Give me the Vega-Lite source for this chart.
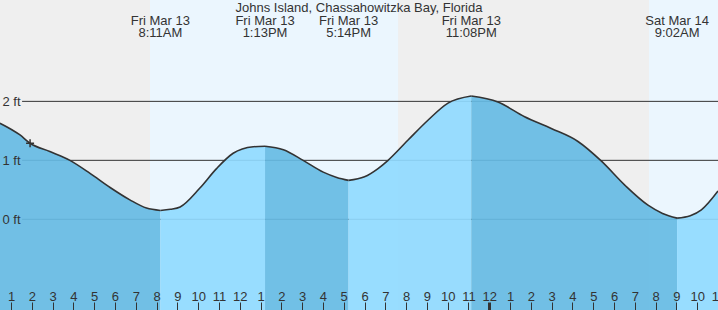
{
  "$schema": "https://vega.github.io/schema/vega-lite/v6.json",
  "width": 718,
  "height": 310,
  "autosize": {"type": "none"},
  "padding": 0,
  "background": "#efefef",
  "title": {"text": "Johns Island, Chassahowitzka Bay, Florida", "offset": -15, "fontSize": 13, "font": "Liberation Sans", "fontWeight": "normal", "color": "#333", "anchor": "middle", "frame": "group"},
  "config": {"view": {"stroke": null}, "font": "Liberation Sans", "axis": {"labelOverlap": false}},
  "datasets": {
    "day": [
      {"s": "2026-03-13T07:41", "e": "2026-03-13T19:37"},
      {"s": "2026-03-14T07:41", "e": "2026-03-14T19:38"}
    ],
    "grid": [{"ft": 0}, {"ft": 1}, {"ft": 2}],
    "tide": [
      {"t": "2026-03-13T00:28", "ft": 1.63, "seg": 1, "phase": "falling"},
      {"t": "2026-03-13T01:26", "ft": 1.43, "seg": 1, "phase": "falling"},
      {"t": "2026-03-13T01:55", "ft": 1.29, "seg": 1, "phase": "falling"},
      {"t": "2026-03-13T02:52", "ft": 1.15, "seg": 1, "phase": "falling"},
      {"t": "2026-03-13T03:50", "ft": 1.0, "seg": 1, "phase": "falling"},
      {"t": "2026-03-13T04:48", "ft": 0.78, "seg": 1, "phase": "falling"},
      {"t": "2026-03-13T05:46", "ft": 0.54, "seg": 1, "phase": "falling"},
      {"t": "2026-03-13T06:43", "ft": 0.33, "seg": 1, "phase": "falling"},
      {"t": "2026-03-13T07:31", "ft": 0.19, "seg": 1, "phase": "falling"},
      {"t": "2026-03-13T08:11", "ft": 0.15, "seg": 1, "phase": "falling"},
      {"t": "2026-03-13T08:11", "ft": 0.15, "seg": 2, "phase": "rising"},
      {"t": "2026-03-13T08:40", "ft": 0.17, "seg": 2, "phase": "rising"},
      {"t": "2026-03-13T09:08", "ft": 0.21, "seg": 2, "phase": "rising"},
      {"t": "2026-03-13T10:05", "ft": 0.53, "seg": 2, "phase": "rising"},
      {"t": "2026-03-13T10:53", "ft": 0.86, "seg": 2, "phase": "rising"},
      {"t": "2026-03-13T11:41", "ft": 1.12, "seg": 2, "phase": "rising"},
      {"t": "2026-03-13T12:39", "ft": 1.23, "seg": 2, "phase": "rising"},
      {"t": "2026-03-13T13:13", "ft": 1.24, "seg": 2, "phase": "rising"},
      {"t": "2026-03-13T13:13", "ft": 1.24, "seg": 3, "phase": "falling"},
      {"t": "2026-03-13T14:06", "ft": 1.18, "seg": 3, "phase": "falling"},
      {"t": "2026-03-13T15:03", "ft": 1.0, "seg": 3, "phase": "falling"},
      {"t": "2026-03-13T16:01", "ft": 0.8, "seg": 3, "phase": "falling"},
      {"t": "2026-03-13T16:40", "ft": 0.71, "seg": 3, "phase": "falling"},
      {"t": "2026-03-13T17:14", "ft": 0.66, "seg": 3, "phase": "falling"},
      {"t": "2026-03-13T17:14", "ft": 0.66, "seg": 4, "phase": "rising"},
      {"t": "2026-03-13T18:00", "ft": 0.72, "seg": 4, "phase": "rising"},
      {"t": "2026-03-13T18:39", "ft": 0.86, "seg": 4, "phase": "rising"},
      {"t": "2026-03-13T19:08", "ft": 1.0, "seg": 4, "phase": "rising"},
      {"t": "2026-03-13T20:05", "ft": 1.34, "seg": 4, "phase": "rising"},
      {"t": "2026-03-13T21:03", "ft": 1.68, "seg": 4, "phase": "rising"},
      {"t": "2026-03-13T22:01", "ft": 1.97, "seg": 4, "phase": "rising"},
      {"t": "2026-03-13T23:08", "ft": 2.09, "seg": 4, "phase": "rising"},
      {"t": "2026-03-13T23:08", "ft": 2.09, "seg": 5, "phase": "falling"},
      {"t": "2026-03-14T00:25", "ft": 1.99, "seg": 5, "phase": "falling"},
      {"t": "2026-03-14T01:42", "ft": 1.74, "seg": 5, "phase": "falling"},
      {"t": "2026-03-14T02:59", "ft": 1.54, "seg": 5, "phase": "falling"},
      {"t": "2026-03-14T04:16", "ft": 1.32, "seg": 5, "phase": "falling"},
      {"t": "2026-03-14T05:23", "ft": 0.99, "seg": 5, "phase": "falling"},
      {"t": "2026-03-14T06:31", "ft": 0.58, "seg": 5, "phase": "falling"},
      {"t": "2026-03-14T07:38", "ft": 0.24, "seg": 5, "phase": "falling"},
      {"t": "2026-03-14T08:20", "ft": 0.1, "seg": 5, "phase": "falling"},
      {"t": "2026-03-14T09:02", "ft": 0.02, "seg": 5, "phase": "falling"},
      {"t": "2026-03-14T09:02", "ft": 0.02, "seg": 6, "phase": "rising"},
      {"t": "2026-03-14T09:40", "ft": 0.06, "seg": 6, "phase": "rising"},
      {"t": "2026-03-14T10:12", "ft": 0.16, "seg": 6, "phase": "rising"},
      {"t": "2026-03-14T11:00", "ft": 0.48, "seg": 6, "phase": "rising"}
    ],
    "now": [{"t": "2026-03-13T01:55", "ft": 1.29}],
    "events": [
      {"t": "2026-03-13T08:11", "label": "Fri Mar 13\n8:11AM"},
      {"t": "2026-03-13T13:13", "label": "Fri Mar 13\n1:13PM"},
      {"t": "2026-03-13T17:14", "label": "Fri Mar 13\n5:14PM"},
      {"t": "2026-03-13T23:08", "label": "Fri Mar 13\n11:08PM"},
      {"t": "2026-03-14T09:02", "label": "Sat Mar 14\n9:02AM"}
    ]
  },
  "layer": [
    {
      "data": {"name": "day"},
      "mark": {"type": "rect", "color": "#ebf6fe", "clip": true},
      "encoding": {
        "x": {"field": "s", "type": "temporal",
          "scale": {"domain": [{"year": 2026, "month": 3, "date": 13, "hours": 0, "minutes": 28, "seconds": 15}, {"year": 2026, "month": 3, "date": 14, "hours": 11, "minutes": 0}], "nice": false},
          "axis": {"title": null, "orient": "bottom", "domain": false, "grid": false, "tickCount": 40,
            "values": [
              {"year": 2026, "month": 3, "date": 13, "hours": 1}, {"year": 2026, "month": 3, "date": 13, "hours": 2}, {"year": 2026, "month": 3, "date": 13, "hours": 3}, {"year": 2026, "month": 3, "date": 13, "hours": 4}, {"year": 2026, "month": 3, "date": 13, "hours": 5}, {"year": 2026, "month": 3, "date": 13, "hours": 6}, {"year": 2026, "month": 3, "date": 13, "hours": 7}, {"year": 2026, "month": 3, "date": 13, "hours": 8}, {"year": 2026, "month": 3, "date": 13, "hours": 9}, {"year": 2026, "month": 3, "date": 13, "hours": 10}, {"year": 2026, "month": 3, "date": 13, "hours": 11}, {"year": 2026, "month": 3, "date": 13, "hours": 12},
              {"year": 2026, "month": 3, "date": 13, "hours": 13}, {"year": 2026, "month": 3, "date": 13, "hours": 14}, {"year": 2026, "month": 3, "date": 13, "hours": 15}, {"year": 2026, "month": 3, "date": 13, "hours": 16}, {"year": 2026, "month": 3, "date": 13, "hours": 17}, {"year": 2026, "month": 3, "date": 13, "hours": 18}, {"year": 2026, "month": 3, "date": 13, "hours": 19}, {"year": 2026, "month": 3, "date": 13, "hours": 20}, {"year": 2026, "month": 3, "date": 13, "hours": 21}, {"year": 2026, "month": 3, "date": 13, "hours": 22}, {"year": 2026, "month": 3, "date": 13, "hours": 23},
              {"year": 2026, "month": 3, "date": 14, "hours": 0}, {"year": 2026, "month": 3, "date": 14, "hours": 1}, {"year": 2026, "month": 3, "date": 14, "hours": 2}, {"year": 2026, "month": 3, "date": 14, "hours": 3}, {"year": 2026, "month": 3, "date": 14, "hours": 4}, {"year": 2026, "month": 3, "date": 14, "hours": 5}, {"year": 2026, "month": 3, "date": 14, "hours": 6}, {"year": 2026, "month": 3, "date": 14, "hours": 7}, {"year": 2026, "month": 3, "date": 14, "hours": 8}, {"year": 2026, "month": 3, "date": 14, "hours": 9}, {"year": 2026, "month": 3, "date": 14, "hours": 10}, {"year": 2026, "month": 3, "date": 14, "hours": 11}
            ],
            "format": "%-I", "tickSize": -8, "tickColor": "#333", "tickWidth": {"condition": {"test": "hours(datum.value) == 0", "value": 3}, "value": 1}, "labelPadding": -2, "labelBaseline": "alphabetic", "labelFontSize": 13, "labelColor": "#333", "labelFont": "Liberation Sans", "labelFlush": false, "labelOverlap": false, "labelSeparation": -30, "labelBound": false, "zindex": 1}},
        "x2": {"field": "e"}
      }
    },
    {
      "data": {"name": "grid"},
      "mark": {"type": "rule", "color": "#333", "strokeWidth": 1},
      "encoding": {
        "x": {"datum": {"year": 2026, "month": 3, "date": 13, "hours": 1, "minutes": 32}, "type": "temporal"},
        "x2": {"datum": {"year": 2026, "month": 3, "date": 14, "hours": 11, "minutes": 0}},
        "y": {"field": "ft", "type": "quantitative", "title": null,
          "scale": {"domain": [-1.538, 3.719], "nice": false, "zero": false},
          "axis": {"title": null, "orient": "left", "domain": false, "ticks": false, "grid": false, "values": [0, 1, 2], "labelExpr": "datum.value + ' ft'", "labelAlign": "left", "labelBaseline": "middle", "labelPadding": -2, "labelFontSize": 13, "labelColor": "#333", "labelFont": "Liberation Sans", "zindex": 1}}
      }
    },
    {
      "data": {"name": "tide"},
      "mark": {"type": "area", "interpolate": "monotone", "fillOpacity": 0.92, "clip": true},
      "encoding": {
        "x": {"field": "t", "type": "temporal"},
        "y": {"field": "ft", "type": "quantitative", "stack": null, "title": null},
        "y2": {"datum": -1.538},
        "color": {"field": "phase", "type": "nominal", "legend": null, "scale": {"domain": ["falling", "rising"], "range": ["#66bbe4", "#90daff"]}},
        "detail": {"field": "seg"}
      }
    },
    {
      "data": {"name": "tide"},
      "mark": {"type": "line", "interpolate": "monotone", "color": "#333", "strokeWidth": 1.6, "clip": true},
      "encoding": {
        "x": {"field": "t", "type": "temporal"},
        "y": {"field": "ft", "type": "quantitative", "title": null},
        "detail": {"field": "seg"}
      }
    },
    {
      "data": {"name": "now"},
      "mark": {"type": "point", "shape": "M-1,0L1,0M0,-1L0,1", "size": 64, "filled": false, "stroke": "#333", "strokeWidth": 1.5, "opacity": 1},
      "encoding": {
        "x": {"field": "t", "type": "temporal"},
        "y": {"field": "ft", "type": "quantitative", "title": null}
      }
    },
    {
      "data": {"name": "events"},
      "mark": {"type": "text", "lineBreak": "\n", "baseline": "top", "align": "center", "fontSize": 13, "lineHeight": 12.5, "color": "#333", "font": "Liberation Sans"},
      "encoding": {
        "x": {"field": "t", "type": "temporal"},
        "y": {"datum": 3.47, "type": "quantitative"},
        "text": {"field": "label"}
      }
    }
  ]
}
